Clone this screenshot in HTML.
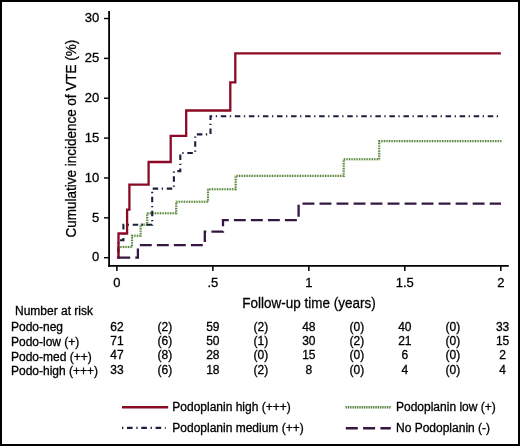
<!DOCTYPE html>
<html><head><meta charset="utf-8"><title>Cumulative incidence of VTE</title>
<style>html,body{margin:0;padding:0;background:#fff;}body{width:520px;height:446px;overflow:hidden;}svg{display:block;will-change:transform;}text{font-family:"Liberation Sans",sans-serif;fill:#000;stroke:#000;stroke-width:0.3px;}</style>
</head><body>
<svg width="520" height="446" viewBox="0 0 520 446">
<rect x="0" y="0" width="520" height="446" fill="#000"/>
<rect x="2" y="2" width="516" height="442" fill="#fff"/>
<g stroke="#000" fill="none" stroke-linecap="butt">
<path d="M109.1 11 V266.8" stroke-width="1.8"/>
<path d="M108.2 265.9 H508.8" stroke-width="1.8"/>
<path d="M104 257.70 H109" stroke-width="1.4"/>
<path d="M104 217.83 H109" stroke-width="1.4"/>
<path d="M104 177.97 H109" stroke-width="1.4"/>
<path d="M104 138.10 H109" stroke-width="1.4"/>
<path d="M104 98.24 H109" stroke-width="1.4"/>
<path d="M104 58.38 H109" stroke-width="1.4"/>
<path d="M104 18.51 H109" stroke-width="1.4"/>
<path d="M116.90 266 V271" stroke-width="1.5"/>
<path d="M212.88 266 V271" stroke-width="1.5"/>
<path d="M308.85 266 V271" stroke-width="1.5"/>
<path d="M404.82 266 V271" stroke-width="1.5"/>
<path d="M500.80 266 V271" stroke-width="1.5"/>
</g>
<g font-size="13" text-anchor="end">
<text x="99.3" y="261.40">0</text>
<text x="99.3" y="221.53">5</text>
<text x="99.3" y="181.67">10</text>
<text x="99.3" y="141.80">15</text>
<text x="99.3" y="101.94">20</text>
<text x="99.3" y="62.08">25</text>
<text x="99.3" y="22.21">30</text>
</g>
<g font-size="13" text-anchor="middle">
<text x="116.90" y="287.3">0</text>
<text x="212.88" y="287.3">.5</text>
<text x="308.85" y="287.3">1</text>
<text x="404.82" y="287.3">1.5</text>
<text x="500.80" y="287.3">2</text>
</g>
<text transform="translate(309 307.8) scale(0.87 1)" font-size="15.5" text-anchor="middle">Follow-up time (years)</text>
<text transform="translate(76.3 138.6) rotate(-90) scale(0.87 1)" font-size="15.5" text-anchor="middle">Cumulative incidence of VTE (%)</text>
<g fill="none" stroke-linejoin="miter" stroke-linecap="butt">
<path d="M118.40 257.70 V247.00 H132.00 V235.70 H140.60 V224.60 H147.20 V213.20 H176.20 V201.70 H208.00 V189.20 H235.70 V175.90 H343.70 V159.30 H379.20 V141.10 H501.50" stroke="#d6ebc8" stroke-width="2.4"/>
<path d="M118.40 257.70 V247.00 H132.00 V235.70 H140.60 V224.60 H147.20 V213.20 H176.20 V201.70 H208.00 V189.20 H235.70 V175.90 H343.70 V159.30 H379.20 V141.10 H501.50" stroke="#5b7d48" stroke-width="2.1" stroke-dasharray="1.2 1.33"/>
<path d="M118.40 257.70 V240.20 H123.40 V224.80 H152.20 V188.60 H173.90 V171.10 H180.30 V153.00 H195.20 V134.40 H210.50 V116.20 H501.00" stroke="#1a1f3d" stroke-width="2.1" stroke-dasharray="5.5 3.5 1.3 3.75" stroke-dashoffset="9.0"/>
<path d="M116.90 257.70 H118.50 V233.50 H127.10 V209.60 H129.40 V184.60 H148.60 V162.00 H170.70 V135.90 H186.20 V110.50 H230.30 V82.40 H235.30 V53.30 H500.90" stroke="#8a0a26" stroke-width="2.3"/>
<path d="M116.90 257.70 H137.90 V245.20 H204.80 V231.70 H223.00 V220.10 H298.60 V203.60 H501.00" stroke="#341742" stroke-width="2.3" stroke-dasharray="11.9 5.12" stroke-dashoffset="15.62"/>
</g>
<text x="15" y="315" font-size="12">Number at risk</text>
<text x="11" y="330.60" font-size="12">Podo-neg</text>
<text x="116.90" y="330.60" font-size="12" text-anchor="middle">62</text>
<text x="164.89" y="330.60" font-size="12" text-anchor="middle">(2)</text>
<text x="212.88" y="330.60" font-size="12" text-anchor="middle">59</text>
<text x="260.86" y="330.60" font-size="12" text-anchor="middle">(2)</text>
<text x="308.85" y="330.60" font-size="12" text-anchor="middle">48</text>
<text x="356.84" y="330.60" font-size="12" text-anchor="middle">(0)</text>
<text x="404.82" y="330.60" font-size="12" text-anchor="middle">40</text>
<text x="452.81" y="330.60" font-size="12" text-anchor="middle">(0)</text>
<text x="502.60" y="330.60" font-size="12" text-anchor="middle">33</text>
<text x="11" y="345.70" font-size="12">Podo-low (+)</text>
<text x="116.90" y="345.10" font-size="12" text-anchor="middle">71</text>
<text x="164.89" y="345.10" font-size="12" text-anchor="middle">(6)</text>
<text x="212.88" y="345.10" font-size="12" text-anchor="middle">50</text>
<text x="260.86" y="345.10" font-size="12" text-anchor="middle">(1)</text>
<text x="308.85" y="345.10" font-size="12" text-anchor="middle">30</text>
<text x="356.84" y="345.10" font-size="12" text-anchor="middle">(2)</text>
<text x="404.82" y="345.10" font-size="12" text-anchor="middle">21</text>
<text x="452.81" y="345.10" font-size="12" text-anchor="middle">(0)</text>
<text x="502.60" y="345.10" font-size="12" text-anchor="middle">15</text>
<text x="11" y="360.60" font-size="12">Podo-med (++)</text>
<text x="116.90" y="359.40" font-size="12" text-anchor="middle">47</text>
<text x="164.89" y="359.40" font-size="12" text-anchor="middle">(8)</text>
<text x="212.88" y="359.40" font-size="12" text-anchor="middle">28</text>
<text x="260.86" y="359.40" font-size="12" text-anchor="middle">(0)</text>
<text x="308.85" y="359.40" font-size="12" text-anchor="middle">15</text>
<text x="356.84" y="359.40" font-size="12" text-anchor="middle">(0)</text>
<text x="404.82" y="359.40" font-size="12" text-anchor="middle">6</text>
<text x="452.81" y="359.40" font-size="12" text-anchor="middle">(0)</text>
<text x="502.60" y="359.40" font-size="12" text-anchor="middle">2</text>
<text x="11" y="375.30" font-size="12">Podo-high (+++)</text>
<text x="116.90" y="374.40" font-size="12" text-anchor="middle">33</text>
<text x="164.89" y="374.40" font-size="12" text-anchor="middle">(6)</text>
<text x="212.88" y="374.40" font-size="12" text-anchor="middle">18</text>
<text x="260.86" y="374.40" font-size="12" text-anchor="middle">(2)</text>
<text x="308.85" y="374.40" font-size="12" text-anchor="middle">8</text>
<text x="356.84" y="374.40" font-size="12" text-anchor="middle">(0)</text>
<text x="404.82" y="374.40" font-size="12" text-anchor="middle">4</text>
<text x="452.81" y="374.40" font-size="12" text-anchor="middle">(0)</text>
<text x="502.60" y="374.40" font-size="12" text-anchor="middle">4</text>
<g fill="none">
<path d="M122 407.3 H168.2" stroke="#8a0a26" stroke-width="2.4"/>
<path d="M122 427.8 H165.7" stroke="#1a1f3d" stroke-width="2.3" stroke-dasharray="1.3 3.7 5.6 3.7"/>
<path d="M345.6 407.2 H390.8" stroke="#d6ebc8" stroke-width="2.6"/>
<path d="M345.6 407.2 H390.8" stroke="#5b7d48" stroke-width="2.4" stroke-dasharray="1.2 1.1"/>
<path d="M345.8 428.2 H390.8" stroke="#341742" stroke-width="2.4" stroke-dasharray="12 5.3"/>
</g>
<g font-size="12">
<text x="172.3" y="411">Podoplanin high (+++)</text>
<text x="172.3" y="431.6">Podoplanin medium (++)</text>
<text x="396" y="411">Podoplanin low (+)</text>
<text x="396" y="431.6">No Podoplanin (-)</text>
</g>
</svg>
</body></html>
